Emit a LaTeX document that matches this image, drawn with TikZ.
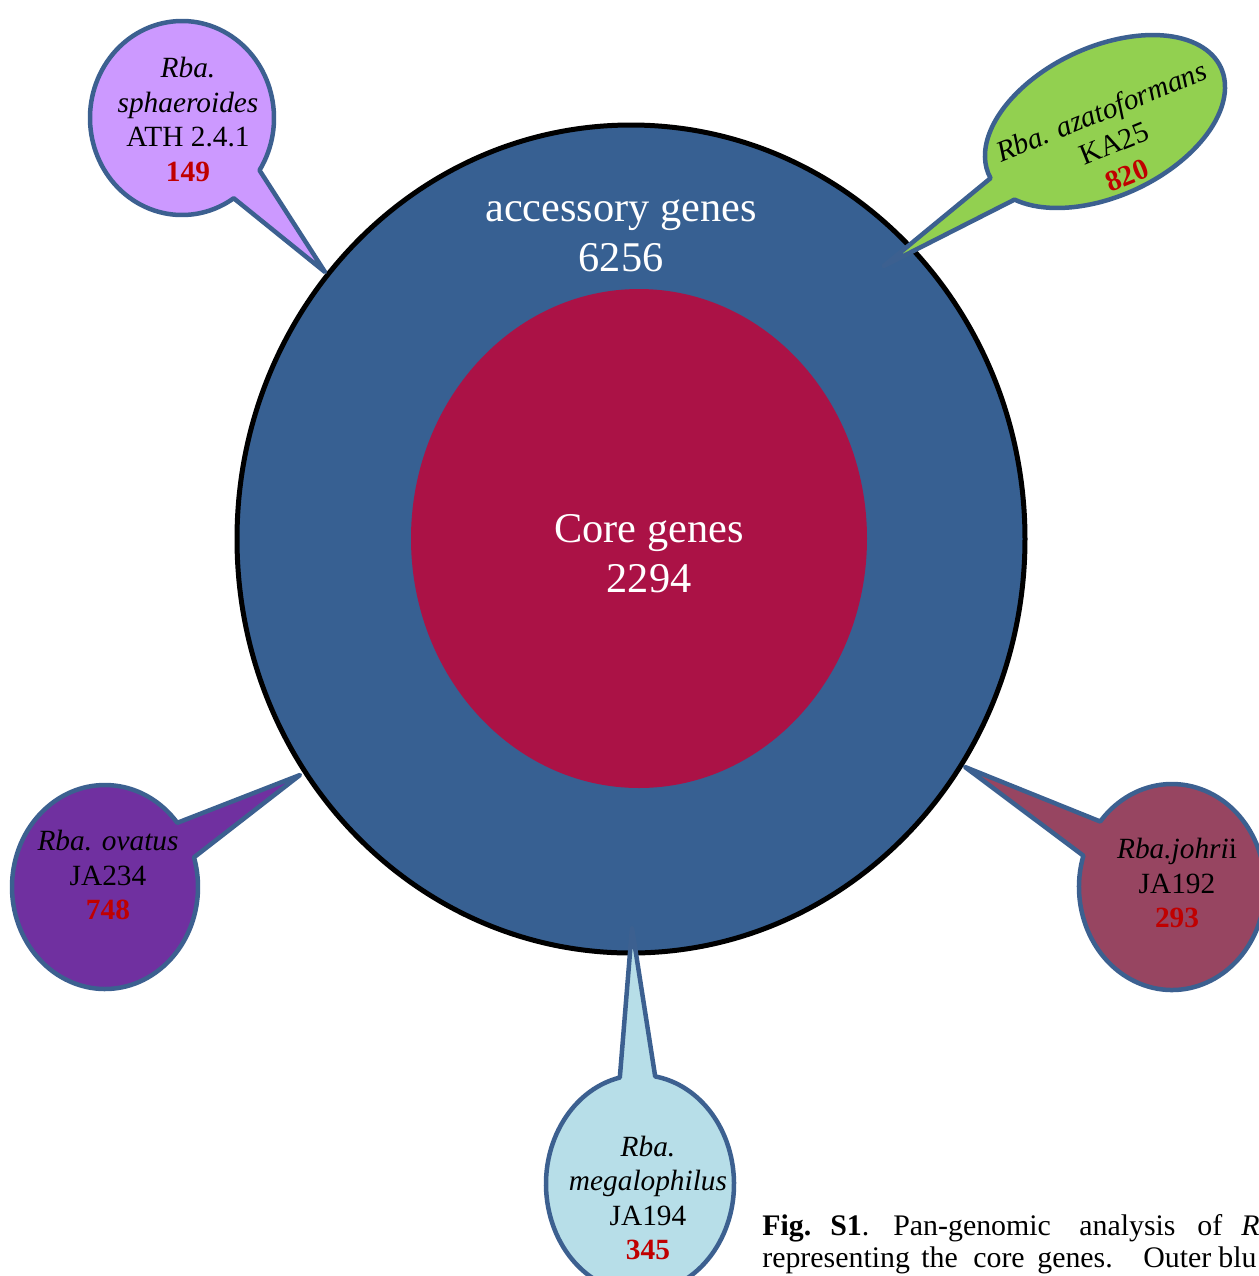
\documentclass[tikz,border=0pt]{standalone}
\usepackage{fontspec}
\setmainfont{Liberation Serif}
\definecolor{outerblue}{RGB}{55,96,146}
\definecolor{corered}{RGB}{171,18,70}
\definecolor{edgeblue}{RGB}{60,96,144}
\definecolor{lilac}{RGB}{204,153,255}
\definecolor{leafgreen}{RGB}{146,208,80}
\definecolor{deeppurple}{RGB}{112,48,160}
\definecolor{maroonish}{RGB}{151,69,97}
\definecolor{paleblue}{RGB}{183,222,232}
\definecolor{numred}{RGB}{192,0,0}
\tikzset{
  callout/.style={draw=edgeblue, line width=0.09cm, line join=round},
  lab/.style={align=center, inner sep=0pt, font=\fontsize{16.7}{19.6}\selectfont},
  biglab/.style={align=center, inner sep=0pt, text=white, font=\fontsize{24.1}{28.5}\selectfont},
  capword/.style={anchor=base west, inner sep=0pt, font=\fontsize{17}{19}\selectfont}
}
\begin{document}
\begin{tikzpicture}[x=0.02cm,y=0.02cm]
\useasboundingbox (0,0) rectangle (1259,-1276);
\clip (0,0) rectangle (1259,-1276);
\fill[white] (0,0) rectangle (1259,-1276);

% main circles
\coordinate (pan) at (631,-539);
\coordinate (core) at (639,-538.5);
\draw[black, line width=0.1cm, fill=outerblue] (pan) ellipse [x radius=394, y radius=414];
\fill[corered] (core) ellipse [x radius=228, y radius=249.5];
\node[biglab] (acc) at (621,-236) {accessory genes\\6256};
\node[biglab] (cor) at (649,-554) {Core genes\\2294};

% callout A: sphaeroides
\coordinate (cA) at (182,-118);
\begin{scope}[shift={(cA)}]
\draw[callout, fill=lilac] (143,-154) -- (-32.6:92 and 97)
  arc[start angle=-32.6, end angle=304.2, x radius=92, y radius=97] -- cycle;
\end{scope}
\node[lab] (tA) at (188,-119.5) {\textit{Rba.}\\\textit{sphaeroides}\\ATH 2.4.1\\\textcolor{numred}{\textbf{149}}};

% callout B: azatoformans
\coordinate (cB) at (1105,-121.5);
\begin{scope}[shift={(cB)}, rotate=25]
\draw[callout, fill=leafgreen] (-261.3,-37.4) -- (205.9:127.8 and 74.5)
  arc[start angle=205.9, end angle=542.3, x radius=127.8, y radius=74.5] -- cycle;
\end{scope}
\node[lab, rotate=22] (tB) at (1114,-143) {\textit{Rba. azatoformans}\\KA25\\\textcolor{numred}{\textbf{820}}};

% callout C: ovatus
\coordinate (cC) at (105,-887);
\begin{scope}[shift={(cC)}]
\draw[callout, fill=deeppurple] (195,112) -- (39:93 and 102)
  arc[start angle=39, end angle=376.9, x radius=93, y radius=102] -- cycle;
\end{scope}
\node[lab] (tC) at (108,-875) {\textit{Rba. ovatus}\\JA234\\\textcolor{numred}{\textbf{748}}};

% callout D: johrii
\coordinate (cD) at (1172,-887);
\begin{scope}[shift={(cD)}]
\draw[callout, fill=maroonish] (-207,120) -- (162.3:93 and 103)
  arc[start angle=162.3, end angle=500.5, x radius=93, y radius=103] -- cycle;
\end{scope}
\node[lab] (tD) at (1177,-883) {\textit{Rba.johri}i\\JA192\\\textcolor{numred}{\textbf{293}}};

% callout E: megalophilus
\coordinate (cE) at (640,-1184);
\begin{scope}[shift={(cE)}]
\draw[callout, fill=paleblue] (-8,256) -- (102.4:94 and 109)
  arc[start angle=102.4, end angle=440.7, x radius=94, y radius=109] -- cycle;
\end{scope}
\node[lab] (tE) at (648,-1198) {\textit{Rba.}\\\textit{megalophilus}\\JA194\\\textcolor{numred}{\textbf{345}}};

% caption (clipped at the picture edge)
\node[capword] (w1) at (762,-1235) {\textbf{Fig.}};
\node[capword] (w2) at (830,-1235) {\textbf{S1}.};
\node[capword] (w3) at (893,-1235) {Pan-genomic};
\node[capword] (w4) at (1079,-1235) {analysis};
\node[capword] (w5) at (1197,-1235) {of};
\node[capword] (w6) at (1241,-1235) {\textit{R}};
\node[capword] (v1) at (762,-1267) {representing};
\node[capword] (v2) at (921,-1267) {the};
\node[capword] (v3) at (973,-1267) {core};
\node[capword] (v4) at (1037,-1267) {genes.};
\node[capword] (v5) at (1143,-1267) {Outer};
\node[capword] (v6) at (1218,-1267) {blu};
\end{tikzpicture}
\end{document}
